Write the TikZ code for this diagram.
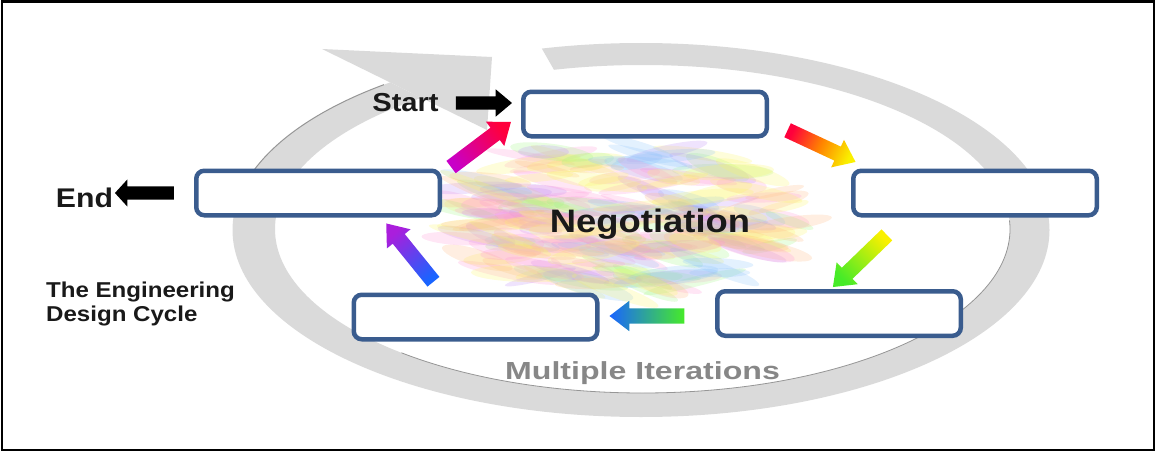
\documentclass[tikz,border=0pt]{standalone}
\usepackage{fontspec}
\setmainfont{Liberation Sans}[FakeStretch=1.12]
\newfontfamily\widesans{Liberation Sans}[FakeStretch=1.3]
\usetikzlibrary{shapes.arrows}

\definecolor{ringgray}{RGB}{218,218,218}
\definecolor{ringedge}{RGB}{150,150,150}
\definecolor{boxblue}{RGB}{58,92,142}
\definecolor{itergray}{RGB}{135,135,135}
\definecolor{inkblack}{RGB}{25,25,25}
\definecolor{arrmagenta}{RGB}{200,0,200}
\definecolor{arrred}{RGB}{255,0,60}
\definecolor{arrorange}{RGB}{255,130,0}
\definecolor{arryellow}{RGB}{250,240,0}
\definecolor{arrgreen}{RGB}{70,235,40}
\definecolor{arrblue}{RGB}{25,100,255}
\definecolor{arrpurple}{RGB}{170,30,220}
\definecolor{blobpink}{RGB}{255,150,215}
\definecolor{blobyellow}{RGB}{250,245,100}
\definecolor{blobgreen}{RGB}{160,245,130}
\definecolor{blobviolet}{RGB}{190,140,245}
\definecolor{blobblue}{RGB}{140,195,250}
\definecolor{bloborange}{RGB}{255,185,130}

\tikzset{
  stagebox/.style={draw=boxblue, line width=4.5pt, fill=white, rounded corners=8pt,
    minimum width=243.5pt, minimum height=44.5pt, inner sep=0pt},
  flowarrow/.style={single arrow, inner sep=7.5pt, minimum height=75pt,
    single arrow head extend=7.5pt, single arrow tip angle=75},
  blackarrow/.style={single arrow, fill=black, inner sep=6.5pt,
    single arrow head extend=7pt},
}

\begin{document}
\begin{tikzpicture}[x=1pt, y=-1pt]
    \useasboundingbox (0,0) rectangle (1156,452);
    \draw[line width=2.7pt] (2,1.5) rectangle (1154,450);

    % grey ring, open at the top
    \begin{scope}
      \clip (628,199) -- (222,0) -- (0,0) -- (0,452) -- (1156,452) -- (1156,0) -- (514,0) -- cycle;
      \fill[ringgray, even odd rule] (641,230) ellipse [x radius=408.5, y radius=187]
                                     (642.5,229) ellipse [x radius=367.5, y radius=164];
    \end{scope}
    % its head
    \fill[ringgray] (322,49) -- (492,57) -- (487,130) -- cycle;
    \draw[ringedge, line width=1pt] (641,230) ++(188:408.5 and 187)
      arc[start angle=188, end angle=231, x radius=408.5, y radius=187];
    \draw[ringedge, line width=.8pt] (642.5,229) ++(-3:367.5 and 164)
      arc[start angle=-3, end angle=131, x radius=367.5, y radius=164];

    % coloured smear in the middle
    \pgfmathsetseed{11}
    \foreach \blobcol in {blobpink,blobyellow,blobgreen,blobviolet,blobblue,bloborange,blobpink,blobyellow}{
      \foreach \k in {1,...,26}{
        \pgfmathsetmacro\ang{360*rnd}
        \pgfmathsetmacro\rad{sqrt(rnd)}
        \pgfmathsetmacro\bx{620+170*\rad*cos(\ang)}
        \pgfmathsetmacro\by{218+75*\rad*sin(\ang)}
        \pgfmathsetmacro\tilt{-22+36*rnd}
        \pgfmathsetmacro\len{25+30*rnd}
        \pgfmathsetmacro\thk{4+5*rnd}
        \fill[\blobcol, opacity=.24, rotate around={\tilt:(\bx,\by)}]
          (\bx,\by) ellipse [x radius=\len, y radius=\thk];
      }
    }

    % the five stages
    \node[stagebox] (topbox) at (645,114) {};
    \node[stagebox] (rightbox) at (975,193) {};
    \node[stagebox] (lowrightbox) at (839,313.5) {};
    \node[stagebox] (lowleftbox) at (475.5,317) {};
    \node[stagebox] (leftbox) at (318,193) {};

    % arrows between the stages (colour runs from tail to head)
    \node[flowarrow, rotate=37, top color=arrred, bottom color=arrmagenta, shading angle=-53] (toparr) at (477,147.5) {};
    \node[flowarrow, rotate=-25, top color=arryellow, bottom color=arrred, middle color=arrorange, shading angle=-115] (rightarr) at (817,144) {};
    \node[flowarrow, rotate=-136, top color=arrgreen, bottom color=arryellow, shading angle=134] (lowrightarr) at (863.5,257.5) {};
    \node[flowarrow, rotate=180, top color=arrblue, bottom color=arrgreen, shading angle=90] (lowleftarr) at (652,316) {};
    \node[flowarrow, rotate=129, top color=arrpurple, bottom color=arrblue, shading angle=39] (leftarr) at (413,256.5) {};

    % start and end
    \node[blackarrow, minimum height=56pt, single arrow tip angle=80] (startarr) at (480,103) {};
    \node[blackarrow, minimum height=59pt, single arrow tip angle=95, rotate=180] (endarr) at (147.5,193) {};
    \node[inkblack, font=\bfseries\fontsize{26}{30}\selectfont, inner sep=0pt] (startlbl) at (405.5,102.5) {Start};
    \node[inkblack, font=\bfseries\fontsize{27}{30}\selectfont, inner sep=0pt] (endlbl) at (84.5,197.5) {End};

    % texts
    \node[inkblack, font=\bfseries\fontsize{32.5}{36}\selectfont, inner sep=0pt] (negotiation) at (650,224) {Negotiation};
    \node[itergray, font=\widesans\bfseries\fontsize{24.7}{28}\selectfont, inner sep=0pt] (iterations) at (642.5,373) {Multiple Iterations};
    \node[inkblack, font=\bfseries\fontsize{21.5}{23.5}\selectfont, inner sep=0pt, align=left, anchor=west] (cycletitle) at (46,304) {The Engineering\\Design Cycle};
\end{tikzpicture}
\end{document}
